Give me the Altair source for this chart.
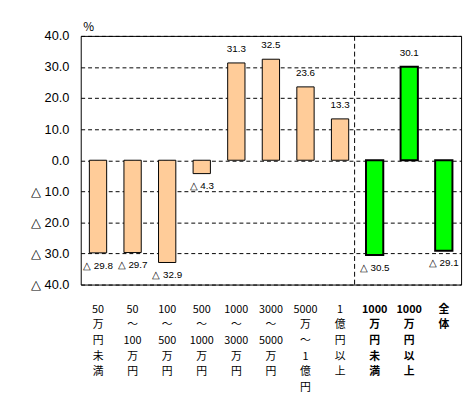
import altair as alt
import pandas as pd

labels = [
    "50\n万\n円\n未\n満",
    "50\n～\n100\n万\n円",
    "100\n～\n500\n万\n円",
    "500\n～\n1000\n万\n円",
    "1000\n～\n3000\n万\n円",
    "3000\n～\n5000\n万\n円",
    "5000\n万\n～\n1\n億\n円",
    "1\n億\n円\n以\n上",
    "1000\n万\n円\n未\n満",
    "1000\n万\n円\n以\n上",
    "全\n体",
]
values = [-29.8, -29.7, -32.9, -4.3, 31.3, 32.5, 23.6, 13.3, -30.5, 30.1, -29.1]
groups = ["size"] * 8 + ["total"] * 3

df = pd.DataFrame({"cat": labels, "value": values, "group": groups})
df["txt"] = [("△ " + f"{-v:.1f}") if v < 0 else f"{v:.1f}" for v in values]

xscale = alt.Scale(domain=labels, paddingInner=0.5, paddingOuter=0.25)
yscale = alt.Scale(domain=[-40, 40], nice=False)

bold_test = "indexof(['1000\\n万\\n円\\n未\\n満','1000\\n万\\n円\\n以\\n上','全\\n体'], datum.value) >= 0"

xaxis = alt.Axis(
    title=None,
    labelAngle=0,
    labelExpr="split(datum.label, '\\n')",
    labelFont="Noto Sans CJK JP",
    labelFontSize=11,
    labelLineHeight=16,
    labelColor="black",
    labelBaseline="top",
    labelPadding=19,
    labelOverlap=False,
    ticks=False,
    domain=False,
    labelFontWeight={"condition": {"test": bold_test, "value": "bold"}, "value": "normal"},
)
x = alt.X("cat:N", scale=xscale, sort=labels, axis=xaxis)
y = alt.Y(
    "value:Q",
    scale=yscale,
    axis=alt.Axis(
        title="%",
        titleAngle=0,
        titleAlign="left",
        titleBaseline="bottom",
        titleX=2,
        titleY=-3,
        titleFont="Noto Sans CJK JP",
        titleFontSize=12,
        titleFontWeight="normal",
        values=[-40, -30, -20, -10, 0, 10, 20, 30, 40],
        labelExpr="datum.value < 0 ? '△ ' + format(-datum.value, '.1f') : format(datum.value, '.1f')",
        labelFont="Liberation Sans",
        labelFontSize=13,
        labelColor="black",
        labelPadding=12,
        ticks=False,
        domain=False,
        grid=True,
        gridColor="black",
        gridDash=[4, 3],
        gridWidth=1,
        gridOpacity=1,
    ),
)

base = alt.Chart(df)

bars_a = base.transform_filter("datum.group == 'size'").mark_bar(
    fill="#FFCC99", stroke="black", strokeWidth=1
).encode(x=x, y=y, y2=alt.datum(0))
bars_b = base.transform_filter("datum.group == 'total'").mark_bar(
    fill="#00FF00", stroke="black", strokeWidth=2
).encode(x=x, y=y, y2=alt.datum(0))

txt_pos = base.transform_filter("datum.value >= 0").mark_text(
    dy=-14, fontSize=10, font="Liberation Sans", color="black", baseline="middle"
).encode(x=x, y=y, text="txt:N")
txt_neg = base.transform_filter("datum.value < 0").mark_text(
    dy=13, fontSize=10, font="Liberation Sans", color="black", baseline="middle"
).encode(x=x, y=y, text="txt:N")

sep = alt.Chart(pd.DataFrame({"cat": [labels[7]]})).mark_rule(
    color="black", strokeDash=[5, 3], strokeWidth=1, xOffset=6
).encode(x=alt.X("cat:N", scale=xscale, sort=labels, bandPosition=1, axis=xaxis))

chart = alt.layer(bars_a, bars_b, txt_pos, txt_neg, sep).properties(
    width=387,
    height=253,
    autosize=alt.AutoSizeParams(type="none"),
    padding={"left": 74, "top": 25, "right": 5, "bottom": 111},
    background="white",
).configure_view(stroke="black", strokeWidth=1)

chart.save("out.html", embed_options={"renderer": "svg", "actions": False})
